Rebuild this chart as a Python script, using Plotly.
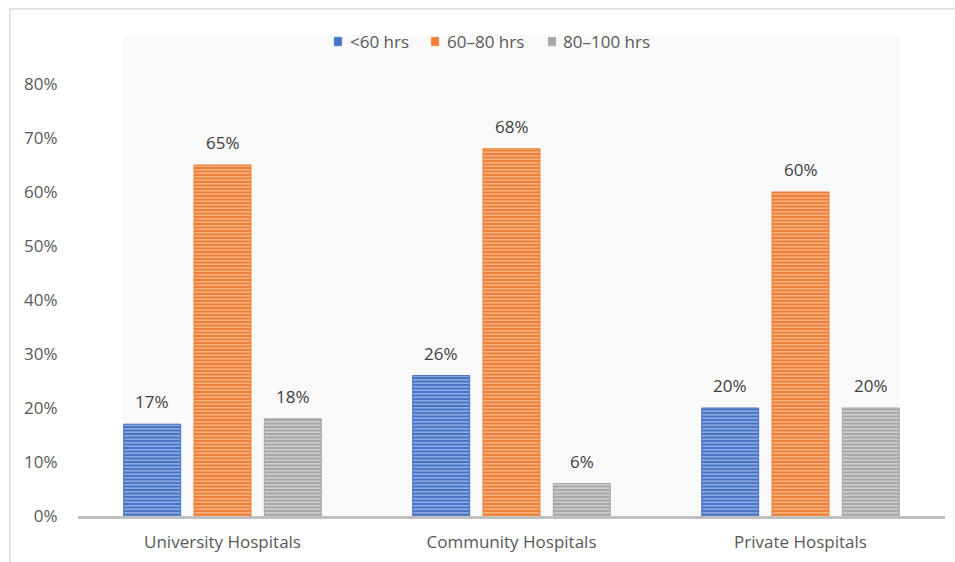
import plotly.graph_objects as go

categories = ["University Hospitals", "Community Hospitals", "Private Hospitals"]
series_names = ["<60 hrs", "60–80 hrs", "80–100 hrs"]
lt60 = [0.17, 0.26, 0.20]
h60_80 = [0.65, 0.68, 0.60]
h80_100 = [0.18, 0.06, 0.20]
tick_vals = [0, 0.1, 0.2, 0.3, 0.4, 0.5, 0.6, 0.7, 0.8]
tick_text = ["0%", "10%", "20%", "30%", "40%", "50%", "60%", "70%", "80%"]

dark = ["#4472C4", "#ED7D31", "#A5A5A5"]
light = ["#9DB5E3", "#F8BC92", "#D6D6D6"]

FONT = "Open Sans"
FS = 17
L, R, T, B = 78, 10, 35, 46
W, H = 955, 562
pw = W - L - R
ph = H - T - B

def px(x):
    return (x - L) / pw

def py(y):
    return (H - B - y) / ph

fig = go.Figure()
all_series = [lt60, h60_80, h80_100]
for i, (name, vals) in enumerate(zip(series_names, all_series)):
    fig.add_trace(go.Bar(
        x=categories, y=vals, name=name, showlegend=False,
        marker=dict(color=dark[i], line=dict(color=dark[i], width=1),
                    pattern=dict(shape="-", fgcolor=light[i], bgcolor=dark[i],
                                 size=3.5, solidity=0.4, fillmode="replace")),
    ))

# data labels above bars
annotations = []
bar_offset = 70.5
for i, vals in enumerate(all_series):
    for c, v in zip(categories, vals):
        annotations.append(dict(x=c, y=v, xref="x", yref="y", text=f"{round(v*100)}%",
                                showarrow=False, yanchor="bottom", yshift=9,
                                xshift=(i - 1) * bar_offset,
                                font=dict(family=FONT, size=FS, color="#404040")))

# custom legend
legend_sq_x = [334, 431, 548]
legend_txt_x = [348, 445, 561]
legend_y = 41
shapes = [
    dict(type="rect", xref="paper", yref="paper", x0=px(123), x1=px(900), y0=0, y1=1,
         fillcolor="#F9F9F9", line=dict(width=0), layer="below"),
    dict(type="rect", xref="paper", yref="paper", x0=px(10), x1=px(960), y0=py(9), y1=py(570),
         fillcolor="rgba(0,0,0,0)", line=dict(color="#D9D9D9", width=1.5), layer="below"),
]
for i, name in enumerate(series_names):
    shapes.append(dict(type="rect", xref="paper", yref="paper",
                       x0=px(legend_sq_x[i]), x1=px(legend_sq_x[i] + 8),
                       y0=py(legend_y + 5), y1=py(legend_y - 4),
                       fillcolor=dark[i], line=dict(color=light[i], width=0.5)))
    annotations.append(dict(x=px(legend_txt_x[i]), y=py(legend_y), xref="paper", yref="paper",
                            text=name, showarrow=False, xanchor="left", yanchor="middle",
                            font=dict(family=FONT, size=FS, color="#595959")))

fig.update_layout(
    width=W, height=H,
    margin=dict(l=L, r=R, t=T, b=B),
    paper_bgcolor="white", plot_bgcolor="rgba(0,0,0,0)",
    barmode="group", bargap=0.27, bargroupgap=0.19,
    font=dict(family=FONT, size=FS, color="#595959"),
    showlegend=False,
    xaxis=dict(showline=True, linecolor="#BFBFBF", linewidth=3, showgrid=False,
               ticks="outside", ticklen=9, tickcolor="rgba(0,0,0,0)",
               tickfont=dict(family=FONT, size=FS, color="#595959"), fixedrange=True),
    yaxis=dict(range=[0, 8.907 * 0.1], tickvals=tick_vals, ticktext=tick_text,
               showgrid=False, zeroline=False, showline=False,
               ticks="outside", ticklen=16, tickcolor="rgba(0,0,0,0)",
               tickfont=dict(family=FONT, size=FS, color="#595959")),
    shapes=shapes,
    annotations=annotations,
)

fig.write_html("out.html")
